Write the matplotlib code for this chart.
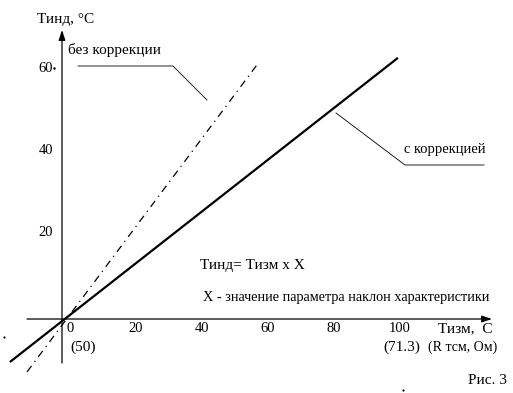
import matplotlib.pyplot as plt

plt.rcParams['font.family'] = ['Liberation Serif', 'DejaVu Serif']

# characteristic lines (T izm, T ind)
x_corr = [-15.8, 101.8]
y_corr = [-10.5, 63.7]
x_nocorr = [-10.6, 59.1]
y_nocorr = [-12.9, 62.0]

xticks = [0, 20, 40, 60, 80, 100]
yticks = [20, 40, 60]

# pixel scale of the drawing: 3.3 px per unit on x, 4.1 px per unit on y, origin at (62, 319)
sx, sy = 3.3, 4.1
x0, y0 = 62, 319
W, H = 513, 393

fig = plt.figure(figsize=(5.13, 3.93), dpi=100)
ax = fig.add_axes([0, 0, 1, 1])
ax.set_xlim(-x0 / sx, (W - x0) / sx)
ax.set_ylim((y0 - H) / sy, y0 / sy)
ax.axis('off')

def px(x, y):
    return ((x - x0) / sx, (y0 - y) / sy)

# axes with arrows
ax.annotate('', xy=px(62, 30), xytext=px(62, 363),
            arrowprops=dict(arrowstyle='-|>,head_length=0.6,head_width=0.2', color='k', lw=0.9, shrinkA=0, shrinkB=0))
ax.annotate('', xy=px(492, 319), xytext=px(27, 319),
            arrowprops=dict(arrowstyle='-|>,head_length=0.6,head_width=0.2', color='k', lw=0.9, shrinkA=0, shrinkB=0))

ax.plot(x_corr, y_corr, color='k', lw=1.6, solid_capstyle='butt')
ax.plot(x_nocorr, y_nocorr, color='k', lw=0.9, linestyle=(0, (6, 4, 1, 4)))

fs = 11
for v in xticks:
    ax.text(v + 8 / sx, -10 / sy, str(v), ha='center', va='center', fontsize=fs - 0.5)
for v in yticks:
    ax.text(-16 / sx, v + 5 / sy, str(v), ha='center', va='center', fontsize=fs - 0.5)
ax.plot(*px(54, 68), 'k.', ms=1.5)
ax.plot(*px(4, 337), 'k.', ms=1.2)
ax.plot(*px(403, 390), 'k.', ms=1.2)

ax.text(*px(37, 20), 'Тинд, °С', ha='left', va='center', fontsize=fs)
ax.text(*px(70, 347), '(50)', ha='left', va='center', fontsize=fs)
ax.text(*px(438, 329), 'Тизм,  С', ha='left', va='center', fontsize=fs)
ax.text(*px(383, 347), '(71.3)', ha='left', va='center', fontsize=fs)
ax.text(*px(428, 347), '(R тсм, Ом)', ha='left', va='center', fontsize=10)
ax.text(*px(507, 380), 'Рис. 3', ha='right', va='center', fontsize=fs)

ax.text(*px(200, 265), 'Тинд= Тизм х Х', ha='left', va='center', fontsize=fs)
ax.text(*px(203, 298), 'Х - значение параметра наклон характеристики', ha='left', va='center', fontsize=10.3)

# leader lines and labels
ax.plot(*zip(px(78, 66), px(173, 66), px(207, 100)), color='k', lw=0.6)
ax.text(*px(68, 50), 'без коррекции', ha='left', va='center', fontsize=fs)
ax.plot(*zip(px(336, 113), px(405, 165), px(484, 165)), color='k', lw=0.6)
ax.text(*px(404, 150), 'с коррекцией', ha='left', va='center', fontsize=10.5)

fig.savefig('out.png', dpi=100)
